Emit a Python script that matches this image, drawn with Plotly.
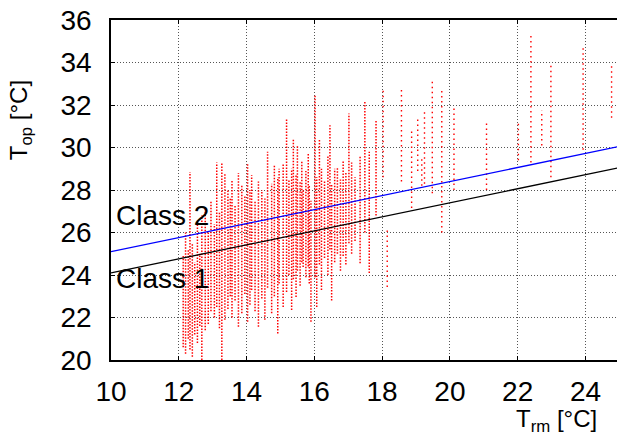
import plotly.graph_objects as go

# ---- data ----
# dense vertical streaks of T_op readings: x = T_rm, lo/hi = T_op range
dense_x = [12.13, 12.2, 12.28, 12.33, 12.4, 12.47, 12.55, 12.62, 12.68, 12.78, 12.87, 12.95,
           13.05, 13.12, 13.2, 13.27, 13.36, 13.45, 13.52, 13.57, 13.66, 13.76, 13.86, 13.95,
           14.03, 14.1, 14.15, 14.25, 14.35, 14.45, 14.54, 14.62, 14.74, 14.82, 14.92, 14.96,
           15.08, 15.18, 15.25, 15.33, 15.38, 15.46, 15.5, 15.58, 15.63, 15.67, 15.75, 15.82,
           15.85, 15.9, 16.02, 16.07, 16.15, 16.21, 16.3, 16.4, 16.46, 16.51, 16.6, 16.68,
           16.77, 16.85, 16.93, 17.02, 17.1, 17.2, 17.35, 17.49, 17.62, 17.82]
dense_lo = [20.6, 20.3, 21.0, 20.5, 20.15, 21.2, 20.8, 21.6, 20.0, 21.4, 21.7, 22.3,
            22.0, 22.5, 21.5, 20.0, 21.9, 22.4, 23.0, 22.0, 22.8, 21.56, 22.2, 23.1,
            21.8, 22.6, 23.3, 22.3, 21.56, 22.9, 21.9, 23.4, 22.2, 23.0, 21.25, 23.6,
            22.5, 23.2, 24.0, 22.35, 23.8, 22.97, 24.2, 23.5, 24.6, 24.38, 23.9, 24.4,
            23.6, 21.8, 23.9, 22.5, 24.5, 23.3, 24.8, 24.0, 25.2, 22.8, 24.6, 25.0,
            24.2, 24.9, 24.5, 25.5, 25.0, 25.6, 24.55, 26.0, 24.1, 26.8]
dense_hi = [24.9, 26.0, 25.2, 28.85, 25.5, 24.6, 26.5, 25.0, 26.8, 27.2, 26.0, 27.5,
            26.4, 29.3, 27.0, 29.25, 28.8, 28.0, 27.6, 28.46, 27.3, 28.8, 28.2, 27.7,
            29.25, 28.0, 28.7, 27.5, 28.4, 28.0, 27.6, 29.8, 28.3, 29.2, 28.6, 29.0,
            29.25, 31.36, 28.5, 29.0, 30.44, 28.7, 30.1, 28.4, 29.4, 28.0, 28.9, 29.7,
            28.2, 27.5, 32.46, 28.6, 30.4, 29.0, 28.4, 29.6, 31.05, 28.3, 29.0, 29.1,
            28.5, 29.4, 28.8, 31.6, 29.3, 28.6, 29.56, 32.2, 29.8, 31.3]

# sparse streaks (warmer periods)
sparse_x = [18.03, 18.15, 18.57, 18.87, 19.05, 19.17, 19.25, 19.48, 19.76, 20.12,
            21.08, 22.02, 22.39, 22.71, 22.98, 23.93, 24.77]
sparse_lo = [28.6, 23.44, 28.4, 27.15, 28.9, 28.2, 28.3, 27.85, 26.0, 28.0,
             28.0, 29.4, 29.3, 30.1, 28.6, 29.9, 31.4]
sparse_hi = [32.8, 26.1, 32.7, 30.9, 31.4, 29.5, 31.75, 33.1, 32.67, 32.0,
             31.2, 31.2, 35.3, 31.75, 34.0, 34.7, 33.9]

# comfort category upper limits (line end points)
class_x = [10, 25]
class2_y = [25.1, 30.05]
class1_y = [24.1, 29.05]

x_ticks = [10, 12, 14, 16, 18, 20, 22, 24]
y_ticks = [20, 22, 24, 26, 28, 30, 32, 34, 36]


def segments(xs, los, his):
    sx, sy = [], []
    for x, lo, hi in zip(xs, los, his):
        sx += [x, x, None]
        sy += [lo, hi, None]
    return sx, sy


fig = go.Figure()
dx, dy = segments(dense_x, dense_lo, dense_hi)
fig.add_trace(go.Scatter(x=dx, y=dy, mode="lines", hoverinfo="skip",
                         line=dict(color="#ff0000", width=1.5, dash="1.5px,1.5px")))
sx, sy = segments(sparse_x, sparse_lo, sparse_hi)
fig.add_trace(go.Scatter(x=sx, y=sy, mode="lines", hoverinfo="skip",
                         line=dict(color="#ff0000", width=1.4, dash="1.5px,3.5px")))
fig.add_trace(go.Scatter(x=class_x, y=class2_y, mode="lines",
                         line=dict(color="#0000ff", width=1.3)))
fig.add_trace(go.Scatter(x=class_x, y=class1_y, mode="lines",
                         line=dict(color="#000000", width=1.3)))

font = "Liberation Sans, Arial, sans-serif"
fig.update_layout(
    width=617, height=441,
    margin=dict(l=111, r=0, t=20, b=81),
    paper_bgcolor="white", plot_bgcolor="white",
    showlegend=False,
    font=dict(family=font, color="black"),
    xaxis=dict(range=[10, 24.93], tickvals=x_ticks, ticks="inside", ticklen=4,
               tickcolor="black", showline=True, linecolor="black", linewidth=1.5,
               mirror="ticks", showgrid=True, gridcolor="#555555", gridwidth=1,
               griddash="1px,2px", zeroline=False, tickfont=dict(size=28),
               ticklabelstandoff=6),
    yaxis=dict(range=[20, 36], tickvals=y_ticks, ticks="inside", ticklen=4,
               tickcolor="black", showline=True, linecolor="black", linewidth=1.5,
               showgrid=True, gridcolor="#555555", gridwidth=1,
               griddash="1px,2px", zeroline=False, tickfont=dict(size=28),
               ticklabelstandoff=12),
    annotations=[
        dict(text="Class 2", x=10.1, y=26.79, xref="x", yref="y", xanchor="left",
             yanchor="middle", showarrow=False, font=dict(size=28)),
        dict(text="Class 1", x=10.1, y=23.83, xref="x", yref="y", xanchor="left",
             yanchor="middle", showarrow=False, font=dict(size=28)),
        dict(text="T<sub>op</sub> [°C]", x=-0.18, y=0.705, xref="paper", yref="paper",
             xanchor="center", yanchor="middle", textangle=-90, showarrow=False,
             font=dict(size=24)),
        dict(text="T<sub>rm</sub> [°C]", x=0.881, y=-0.177, xref="paper", yref="paper",
             xanchor="center", yanchor="middle", showarrow=False, font=dict(size=24)),
    ],
)

fig.write_html("out.html", config={"displayModeBar": False},
               post_script="document.body.style.margin='0';"
                           "document.body.style.overflow='hidden';")
